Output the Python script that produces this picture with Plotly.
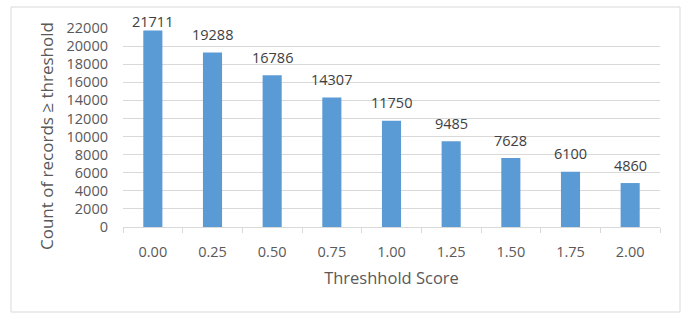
import plotly.graph_objects as go

thresholds = ["0.00", "0.25", "0.50", "0.75", "1.00", "1.25", "1.50", "1.75", "2.00"]
counts = [21711, 19288, 16786, 14307, 11750, 9485, 7628, 6100, 4860]
y_ticks = list(range(0, 22001, 2000))

W, H = 682, 314
ml, mr, mt, mb = 123, 22, 28, 87
FONT = "Open Sans"
Y_MAX = 22000

pw = W - ml - mr
ph = H - mt - mb

fig = go.Figure()
fig.add_trace(go.Bar(
    x=thresholds, y=counts,
    marker=dict(color="#5B9BD5", line=dict(width=0)),
    width=0.32,
    hoverinfo="x+y",
))

# data labels: ~18px above bar end, kept inside the chart area near the top
for i, c in enumerate(counts):
    bar_top_px = mt + ph * (1 - c / Y_MAX)
    label_px = max(bar_top_px - 18, 22)
    fig.add_annotation(
        x=i, y=c, xref="x", yref="y",
        text=str(c), showarrow=False,
        yanchor="middle", yshift=bar_top_px - label_px,
        font=dict(family=FONT, size=14.5, color="#404040"),
    )

fig.add_shape(type="rect", xref="paper", yref="paper",
              x0=(11 - ml) / pw, x1=(680 - ml) / pw,
              y0=(H - mb - 312) / ph, y1=(H - mb - 7) / ph,
              line=dict(color="#D9D9D9", width=1), fillcolor="rgba(0,0,0,0)", layer="below")

# y-axis title as annotation (centred slightly lower than plot centre, as in reference)
fig.add_annotation(
    xref="paper", yref="paper",
    x=(46 - ml) / pw, y=(H - mb - 136) / ph,
    text="Count of records ≥ threshold", showarrow=False, textangle=-90,
    xanchor="center", yanchor="middle",
    font=dict(family=FONT, size=17, color="#595959"),
)

fig.update_layout(
    width=W, height=H,
    margin=dict(l=ml, r=mr, t=mt, b=mb, pad=0),
    paper_bgcolor="white", plot_bgcolor="white",
    font=dict(family=FONT, color="#595959", size=14.5),
    showlegend=False,
    bargap=0.68,
    xaxis=dict(
        type="category",
        showline=True, linecolor="#D9D9D9", linewidth=1,
        ticks="outside", tickson="boundaries", ticklen=5, tickcolor="#D9D9D9",
        tickfont=dict(family=FONT, size=14.5, color="#595959"),
        ticklabelstandoff=12,
        title=dict(text="Threshhold Score", font=dict(family=FONT, size=16.5, color="#595959"), standoff=12),
        showgrid=False,
    ),
    yaxis=dict(
        range=[0, Y_MAX], tickvals=y_ticks, ticktext=[str(v) for v in y_ticks],
        showgrid=True, gridcolor="#D9D9D9", gridwidth=1,
        zeroline=False, showline=False, ticks="",
        tickfont=dict(family=FONT, size=14.5, color="#595959"),
        ticklabelstandoff=14,
    ),
)

fig.write_html("out.html", config={"displayModeBar": False},
               post_script="document.body.style.margin='0';document.body.style.padding='0';")
